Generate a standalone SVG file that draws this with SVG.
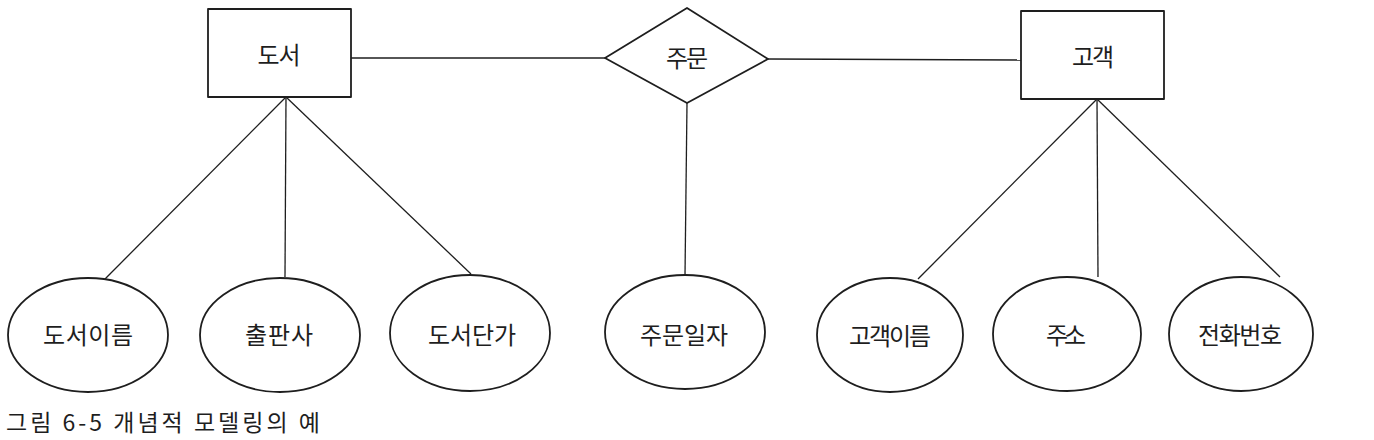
<svg xmlns="http://www.w3.org/2000/svg" width="1374" height="440" viewBox="0 0 1374 440">
<style>
.s{fill:#fff;stroke:#1e1e1e;stroke-width:1.8;stroke-linejoin:round}
.l{fill:none;stroke:#1e1e1e;stroke-width:1.3}
.t{font-family:"Noto Sans CJK KR","Noto Sans",sans-serif;font-size:24px;fill:#1e1e1e;text-anchor:middle;dominant-baseline:central}
.c{font-family:"Noto Sans CJK KR","Noto Sans",sans-serif;font-size:23px;fill:#1e1e1e}
</style>
<rect width="1374" height="440" fill="#fff"/>
<g id="connectors">
<line class="l" x1="351" y1="58" x2="605" y2="58"/>
<line class="l" x1="768" y1="59" x2="1021" y2="60"/>
<line class="l" x1="687" y1="103" x2="685" y2="276"/>
<line class="l" x1="286" y1="97" x2="105" y2="279"/>
<line class="l" x1="286" y1="97" x2="285" y2="277"/>
<line class="l" x1="286" y1="97" x2="471" y2="274"/>
<line class="l" x1="1097" y1="99" x2="918" y2="279"/>
<line class="l" x1="1097" y1="99" x2="1098" y2="277"/>
<line class="l" x1="1097" y1="99" x2="1280" y2="277"/>
</g>
<g id="n-book"><rect class="s" x="208" y="9" width="143" height="88"/><text class="t" x="279" y="53" textLength="43" lengthAdjust="spacing">도서</text></g>
<g id="n-order"><polygon class="s" points="687,8 768,59 687,103 605,58"/><text class="t" x="687" y="56" textLength="42" lengthAdjust="spacing">주문</text></g>
<g id="n-customer"><rect class="s" x="1021" y="11" width="143" height="88"/><text class="t" x="1093" y="55" textLength="42" lengthAdjust="spacing">고객</text></g>
<g id="a-bookname"><ellipse class="s" cx="88" cy="335" rx="80" ry="57"/><text class="t" x="88" y="333" textLength="90" lengthAdjust="spacing">도서이름</text></g>
<g id="a-publisher"><ellipse class="s" cx="280" cy="335" rx="80" ry="57"/><text class="t" x="279" y="333" textLength="68" lengthAdjust="spacing">출판사</text></g>
<g id="a-price"><ellipse class="s" cx="470" cy="333" rx="80" ry="58"/><text class="t" x="472" y="333" textLength="88" lengthAdjust="spacing">도서단가</text></g>
<g id="a-orderdate"><ellipse class="s" cx="685" cy="332" rx="80" ry="57"/><text class="t" x="684" y="333" textLength="88" lengthAdjust="spacing">주문일자</text></g>
<g id="a-custname"><ellipse class="s" cx="890" cy="335" rx="73" ry="57"/><text class="t" x="890" y="334" textLength="82" lengthAdjust="spacing">고객이름</text></g>
<g id="a-address"><ellipse class="s" cx="1067" cy="334" rx="74" ry="57"/><text class="t" x="1066" y="333" textLength="40" lengthAdjust="spacing">주소</text></g>
<g id="a-phone"><ellipse class="s" cx="1241" cy="334" rx="72" ry="57"/><text class="t" x="1240" y="333" textLength="84" lengthAdjust="spacing">전화번호</text></g>
<text class="c" x="6" y="431" textLength="314" lengthAdjust="spacing">그림 6-5 개념적 모델링의 예</text>
</svg>
